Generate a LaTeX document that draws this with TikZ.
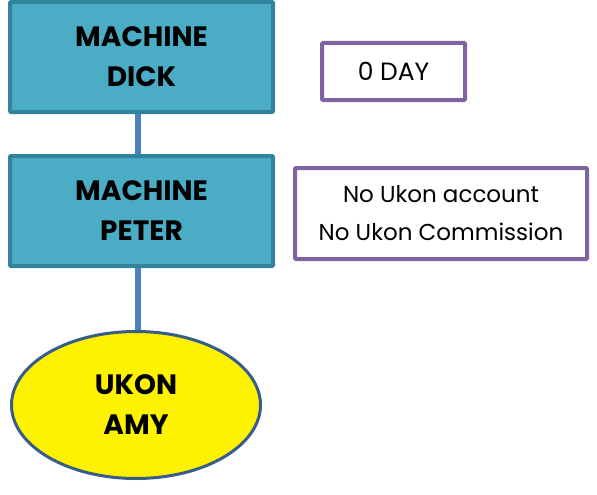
\documentclass[tikz,border=0pt]{standalone}
\usepackage{fontspec}
\setmainfont{Poppins}
\usepackage{tikz}
\usetikzlibrary{positioning,shapes,arrows}

\definecolor{tealfill}{HTML}{4BACC6}
\definecolor{tealline}{HTML}{31849B}
\definecolor{linkblue}{HTML}{4F81BD}
\definecolor{ovalline}{HTML}{385D8A}
\definecolor{notepurple}{HTML}{8064A2}

\begin{document}
\begin{tikzpicture}
            [x=1pt,y=-1pt,every node/.style={align=center, inner sep = 0pt},
             machine/.style={draw=tealline, fill=tealfill, line width=4pt, rounded corners=1pt, minimum width=263pt, minimum height=110pt, font=\fontsize{28}{40}\selectfont\bfseries},
             note/.style={draw=notepurple, line width=4pt, rounded corners=1pt, font=\fontsize{23}{38}\selectfont}]
          \useasboundingbox (0,0) rectangle (597,495);

          \node[machine] (dick) at (141.5,57) {MACHINE\\DICK};
          \node[machine] (peter) at (141.5,211) {MACHINE\\PETER};
          \node[ellipse, draw=ovalline, fill=yellow, line width=3pt, minimum width=249pt, minimum height=147pt, font=\fontsize{28}{40}\selectfont\bfseries] (amy) at (136,405) {UKON\\AMY};

          \node[note, minimum width=143pt, minimum height=57pt, font=\fontsize{25}{38}\selectfont] (day) at (393.5,71.5) {0 DAY};
          \node[note, minimum width=292pt, minimum height=91pt] (acct) at (441,213.5) {No Ukon account\\No Ukon Commission};

          \foreach \from/\to in {dick/peter, peter/amy}
            \draw[linkblue, line width=6pt] ([xshift=-4pt]\from.south) -- ([xshift=-4pt]\from.south |- \to.north);
        \end{tikzpicture}
\end{document}
